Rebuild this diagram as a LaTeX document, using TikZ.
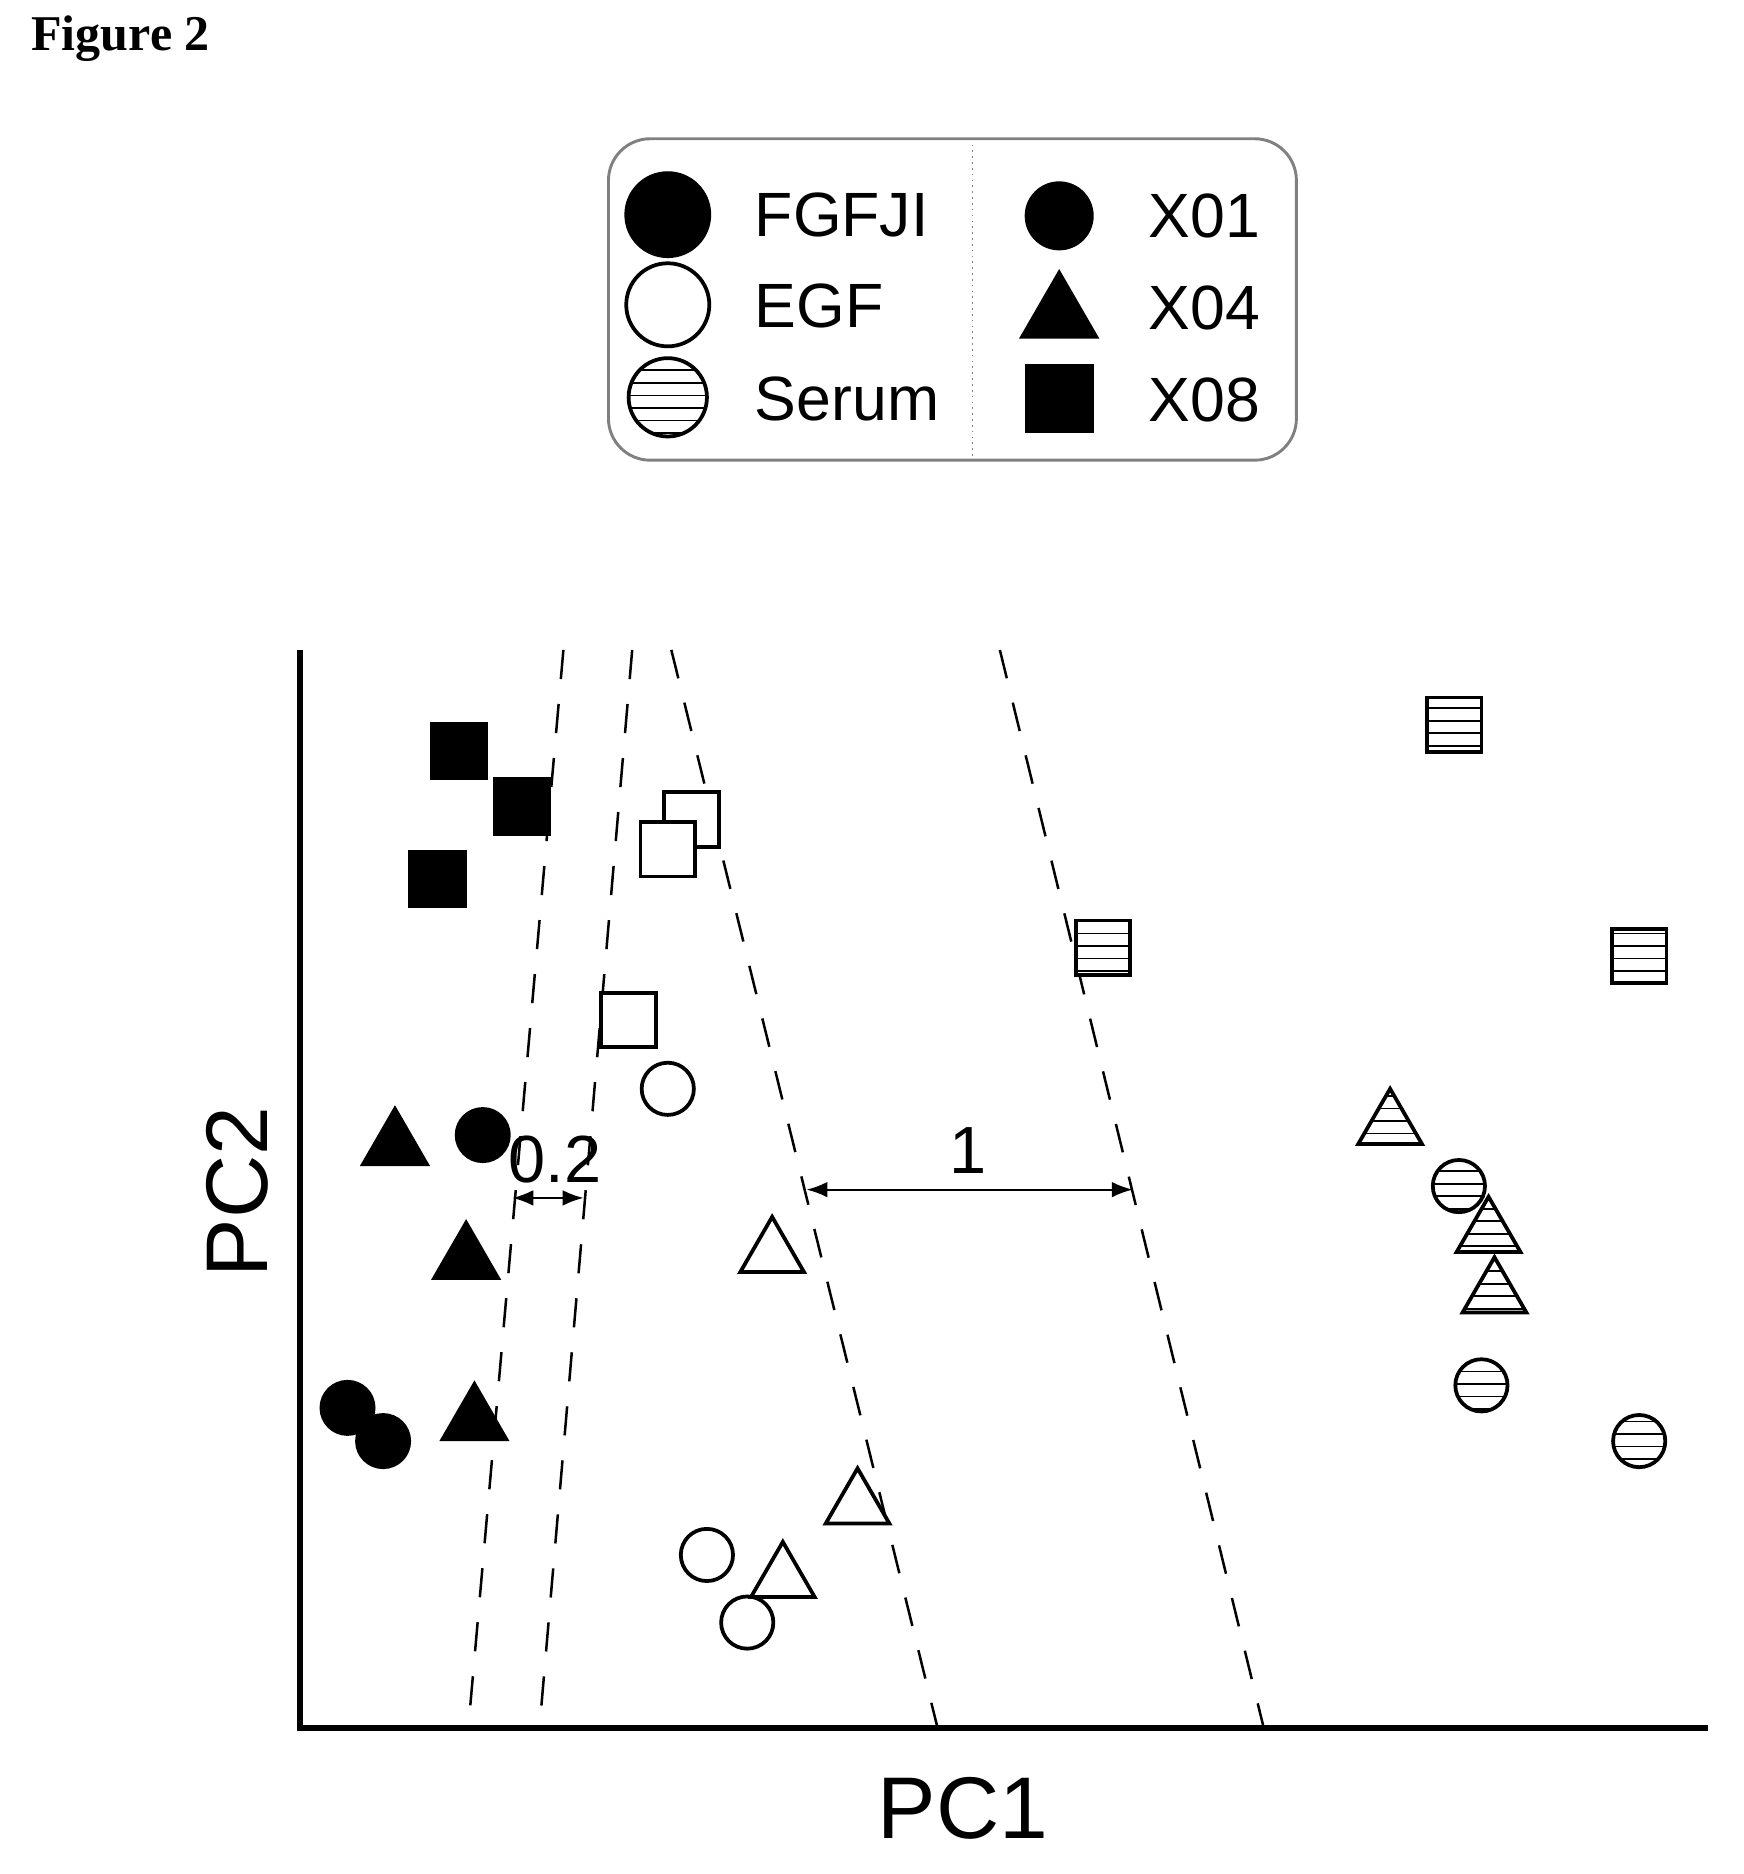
\documentclass[tikz,border=0pt]{standalone}
\usepackage{fontspec}
\setmainfont{Liberation Serif}
\setsansfont{Liberation Sans}
\usetikzlibrary{shapes.geometric,patterns,arrows.meta}
\begin{document}
\begin{tikzpicture}
        [x={(0.01cm,0cm)},
        y={(0cm,-0.01cm)},
        sq/.style={rectangle,draw=black,line width=0.9pt,minimum size=0.46cm,inner sep=0pt},
        ci/.style={circle,draw=black,line width=0.9pt,minimum size=0.44cm,inner sep=0pt},
        tri/.style={regular polygon,regular polygon sides=3,draw=black,line width=0.9pt,minimum size=0.62cm,inner sep=0pt},
        full/.style={fill=black},
        empty/.style={fill=white},
        hatch/.style={fill=white,postaction={pattern=horizontal lines}},
        label/.style={font=\sffamily\fontsize{15}{18}\selectfont,anchor=west},
        sep/.style={dashed,line width=0.6pt,dash pattern=on 7pt off 6pt},
        gap/.style={{Latex[length=5pt]}-{Latex[length=5pt]},line width=0.5pt}]
\useasboundingbox (0,0) rectangle (1470,1580);
%
%% Title
\node[anchor=west,font=\bfseries\fontsize{12}{14}\selectfont] (title) at (14,33) {Figure 2};
%
%% Legend
\draw[rounded corners=10pt,draw=black!50,line width=0.7pt] (513,117) rectangle (1093,388);
\draw[densely dotted,black!50] (820,117) -- (820,388);
\node[ci,full,minimum size=0.7cm] (lgA) at (563,181) {};
\node[ci,empty,minimum size=0.7cm] (lgB) at (563,257) {};
\node[ci,hatch,minimum size=0.66cm] (lgC) at (563,335) {};
\node[label] (txA) at (624,181) {FGFJI};
\node[label] (txB) at (624,258) {EGF};
\node[label] (txC) at (624,336) {Serum};
\node[ci,full,minimum size=0.55cm] (lgD) at (893,182) {};
\node[tri,full,minimum size=0.72cm] (lgE) at (893,266) {};
\node[sq,full,minimum size=0.55cm] (lgF) at (893,336) {};
\node[label] (txD) at (956,182) {X01};
\node[label] (txE) at (956,260) {X04};
\node[label] (txF) at (956,337) {X08};
%
%% Axes
\coordinate (origin) at (253,1457);
\coordinate (yTop) at (253,548);
\coordinate (xEnd) at (1440,1457);
\draw[line width=1.3pt] (yTop) -- (origin) -- (xEnd);
\node[rotate=90,font=\sffamily\fontsize{21}{24}\selectfont] (pcTwo) at (200,1005) {PC2};
\node[font=\sffamily\fontsize{21}{24}\selectfont] (pcOne) at (812,1525) {PC1};
%
%% Boundaries
\coordinate (b1t) at (475,548); \coordinate (b1b) at (395,1455);
\coordinate (b2t) at (533,548); \coordinate (b2b) at (455,1455);
\coordinate (b3t) at (566,548); \coordinate (b3b) at (790,1455);
\coordinate (b4t) at (843,548); \coordinate (b4b) at (1065,1455);
\foreach \i in {1,...,4}
    \draw[sep] (b\i t) -- (b\i b);
%
%% Markers
\foreach \x/\y/\s/\f in {387/633/sq/full, 440/680/sq/full, 369/741/sq/full,
        583/691/sq/empty, 563/716/sq/empty, 530/860/sq/empty,
        1226/611/sq/hatch, 930/799/sq/hatch, 1382/806/sq/hatch,
        407/957/ci/full, 293/1187/ci/full, 323/1215/ci/full,
        563/918/ci/empty, 596/1311/ci/empty, 630/1368/ci/empty,
        1230/1000/ci/hatch, 1249/1168/ci/hatch, 1382/1215/ci/hatch,
        333/966/tri/full, 393/1062/tri/full, 400/1198/tri/full,
        651/1057/tri/empty, 723/1269/tri/empty, 660/1331/tri/empty,
        1172/949/tri/hatch, 1255/1040/tri/hatch, 1260/1091/tri/hatch}
    \node[\s,\f] at (\x,\y) {};
%
%% Distances
\coordinate (g1a) at (432,1010); \coordinate (g1b) at (492,1010);
\coordinate (g2a) at (680,1003); \coordinate (g2b) at (955,1003);
\draw[gap] (g1a) -- (g1b);
\draw[gap] (g2a) -- (g2b);
\node[font=\sffamily\fontsize{16}{18}\selectfont] (dSmall) at (468,978) {0.2};
\node[font=\sffamily\fontsize{16}{18}\selectfont] (dBig) at (816,970) {1};
\end{tikzpicture}
\end{document}
